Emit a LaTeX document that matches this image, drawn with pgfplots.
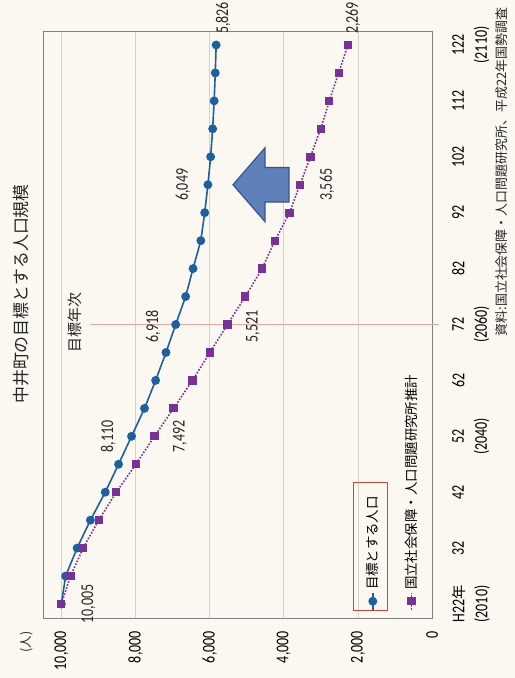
\documentclass[border=0pt]{standalone}
\usepackage{fontspec}
\usepackage{pgfplots}
\pgfplotsset{compat=1.18}
\newfontfamily\cjk{Noto Sans CJK JP}
\newfontfamily\numfont[FakeStretch=0.78]{Carlito}
\definecolor{bl}{RGB}{30,95,160}
\definecolor{pu}{RGB}{120,50,150}
\definecolor{bgc}{RGB}{250,248,240}
\definecolor{grd}{RGB}{212,210,202}
\definecolor{tgt}{RGB}{232,170,160}
\definecolor{arf}{RGB}{95,128,185}
\definecolor{ard}{RGB}{55,85,140}
\definecolor{frm}{RGB}{130,130,130}
\definecolor{lbox}{RGB}{205,70,55}

\pgfplotstableread{
year pop
2010 10005
2015 9890
2020 9580
2025 9220
2030 8820
2035 8460
2040 8110
2045 7760
2050 7460
2055 7180
2060 6918
2065 6650
2070 6450
2075 6240
2080 6135
2085 6049
2090 5975
2095 5920
2100 5880
2105 5850
2110 5826
}\target

\pgfplotstableread{
year pop
2010 10005
2015 9758
2020 9417
2025 8997
2030 8522
2035 7992
2040 7492
2045 6975
2050 6465
2055 5995
2060 5521
2065 5040
2070 4585
2075 4240
2080 3845
2085 3565
2090 3280
2095 3005
2100 2770
2105 2520
2110 2269
}\ipss

\begin{document}
\begin{tikzpicture}
\begin{scope}[transform canvas={rotate=90}]
\fill[bgc] (0,0) rectangle (678bp,515bp);
\begin{axis}[
  at={(60bp,83bp)}, anchor=south west,
  scale only axis, width=587bp, height=389bp,
  xmin=2007.5, xmax=2112.5,
  ymin=0, ymax=10500,
  scaled x ticks=false, scaled y ticks=false,
  clip=false,
  axis line style={draw=frm, line width=0.8bp},
  major tick length=0pt,
  ymajorgrids,
  major grid style={draw=grd, line width=0.8bp},
  ytick={0,2000,4000,6000,8000,10000},
  yticklabels={0,{2,000},{4,000},{6,000},{8,000},{10,000}},
  yticklabel style={font=\numfont\fontsize{18}{22}\selectfont, anchor=east, inner sep=0pt, xshift=-13bp},
  xtick={2010,2020,2030,2040,2050,2060,2070,2080,2090,2100,2110},
  xticklabels={{{H22}{\cjk\fontsize{14.5}{23}\selectfont 年}\\(2010)},32,42,{52\\(2040)},62,{72\\(2060)},82,92,102,112,{122\\(2110)}},
  xticklabel style={font=\numfont\fontsize{18}{23}\selectfont, anchor=north, align=center, inner sep=0pt, yshift=-20bp},
  legend style={draw=none, fill=none, at={(axis cs:2008.8,1830)}, anchor=north west,
    font=\cjk\fontsize{13.5}{16}\selectfont, row sep=22bp, inner sep=0pt},
  legend cell align=left,
]
\draw[tgt, line width=1bp] (axis cs:2060,9230) -- (axis cs:2060,-200);
\addplot[bl, line width=1.6bp, mark=*, mark size=3.6bp, mark options={solid, fill=bl}] table[x=year, y=pop] {\target};
\addlegendentry{目標とする人口}
\addplot[pu, line width=1.6bp, dash pattern=on 1.6bp off 1.6bp, mark=square*, mark size=3.3bp, mark options={solid, fill=pu}] table[x=year, y=pop] {\ipss};
\addlegendentry{国立社会保障・人口問題研究所推計}

\filldraw[fill=arf, draw=ard, line width=1.2bp]
  (axis cs:2085,5371) -- (axis cs:2091.6,4508) -- (axis cs:2088.1,4508) -- (axis cs:2088.1,3860)
  -- (axis cs:2081.9,3860) -- (axis cs:2081.9,4508) -- (axis cs:2078.4,4508) -- cycle;

\node[font=\cjk\fontsize{15}{18}\selectfont, text=black!85] at (axis cs:2060.3,9636) {目標年次};

\begin{scope}[every node/.style={font=\numfont\fontsize{18}{20}\selectfont, text=black!85}]
\node at ([yshift=-27bp]axis cs:2010,10005) {10,005};
\node at ([yshift=23.5bp]axis cs:2040,8110) {8,110};
\node at ([yshift=-25.5bp]axis cs:2040,7492) {7,492};
\node at ([yshift=22.5bp,xshift=-2bp]axis cs:2060,6918) {6,918};
\node at ([yshift=-25.5bp,xshift=-2bp]axis cs:2060,5521) {5,521};
\node at ([yshift=25bp]axis cs:2085,6049) {6,049};
\node at ([yshift=-27bp]axis cs:2085,3565) {3,565};
\node at ([yshift=-7bp,xshift=27bp]axis cs:2110,5826) {5,826};
\node at ([yshift=-5bp,xshift=27bp]axis cs:2110,2269) {2,269};
\end{scope}

\draw[lbox, line width=1bp] (axis cs:2008.9,2132) rectangle (axis cs:2031.8,1188);
\end{axis}
\node[font=\cjk\fontsize{17}{20}\selectfont, text=black!85] at (384bp,494bp) {中井町の目標とする人口規模};
\node[font=\cjk\fontsize{12.5}{15}\selectfont, text=black!85] at (36bp,488bp) {(人)};
\node[font=\cjk\fontsize{13}{15}\selectfont, text=black!85] at (506bp,13bp) {資料:国立社会保障・人口問題研究所、平成22年国勢調査};
\end{scope}
\pgfresetboundingbox
\path[use as bounding box] (-515bp,0) rectangle (0,678bp);
\end{tikzpicture}
\end{document}
